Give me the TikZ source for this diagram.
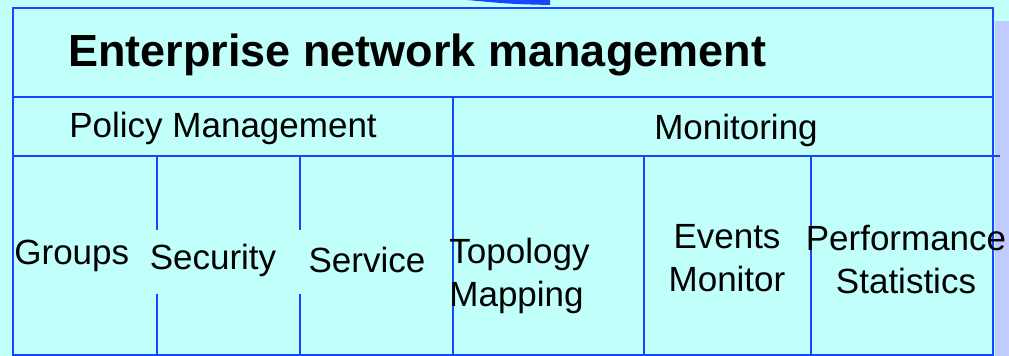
\documentclass[tikz,border=0pt]{standalone}
\usepackage{fontspec}
\setmainfont{Liberation Sans}
\definecolor{bgcyan}{RGB}{192,255,250}
\definecolor{shadowblue}{RGB}{192,204,255}
\definecolor{boxblue}{RGB}{24,70,255}
\begin{document}
\begin{tikzpicture}[x=0.5pt,y=-0.5pt,
    grid/.style={draw=boxblue,line width=1.4pt},
    lab/.style={font=\fontsize{17.5}{21.5}\selectfont,inner sep=0pt,align=center},
    ttl/.style={font=\fontsize{22.5}{27}\selectfont\bfseries,inner sep=0pt}]
    \useasboundingbox[fill=bgcyan] (0,0) rectangle (1009,356);
    \fill[shadowblue] (995,21) rectangle (1009,356);
    \fill[boxblue] (467,0) .. controls (510,4) .. (550,5) -- (550,0) -- cycle;
    % frame and rows
    \draw[grid] (13,8) rectangle (993,355);
    \draw[grid] (13,97) -- (993,97);
    \draw[grid] (13,156) -- (1000,156);
    \draw[grid] (453,97) -- (453,355);
    \foreach \x in {157,300} {
        \draw[grid] (\x,156) -- (\x,230);
        \draw[grid] (\x,294) -- (\x,355);
    }
    \foreach \x in {644,811} \draw[grid] (\x,156) -- (\x,355);
    % labels
    \node[ttl,anchor=base west] (enm) at (68,67) {Enterprise network management};
    \node[lab,anchor=base west] (policy) at (69,138) {Policy Management};
    \node[lab,anchor=base] (monit) at (736,140) {Monitoring};
    \node[lab,anchor=base west] (groups) at (14,265) {Groups};
    \node[lab,anchor=base] (secur) at (213,270) {Security};
    \node[lab,anchor=base] (serv) at (367,273) {Service};
    \node[lab,anchor=base west,align=left] (topo) at (449,307) {Topology\\Mapping};
    \node[lab,anchor=base] (events) at (727,292) {Events\\Monitor};
    \node[lab,anchor=base] (perf) at (906,294) {Performance\\Statistics};
\end{tikzpicture}
\end{document}
